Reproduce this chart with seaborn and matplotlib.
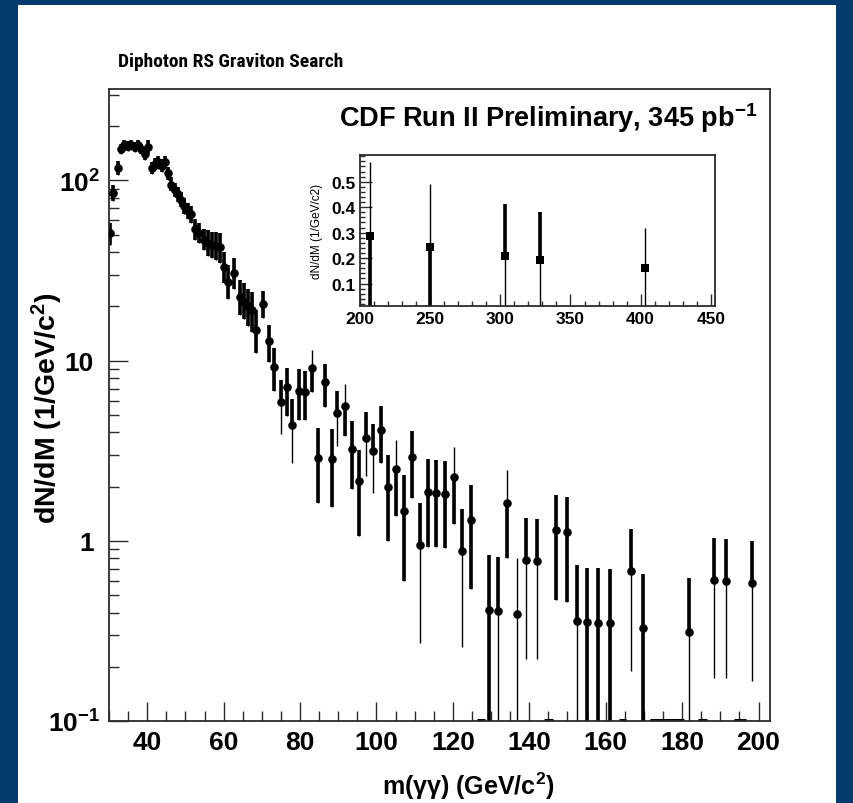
import numpy as np
import matplotlib
matplotlib.use("Agg")
import matplotlib.pyplot as plt
from matplotlib import font_manager as fm
from matplotlib.patches import Rectangle
from matplotlib.transforms import ScaledTranslation
from matplotlib.ticker import FixedLocator, FixedFormatter, NullFormatter, MultipleLocator
import seaborn as sns

# ---------------- data ----------------
# diphoton invariant mass spectrum (bin centres, GeV/c^2) and dN/dM (1/GeV/c^2)
mass = [30.2, 31.1, 32.3, 33.1, 34.0, 34.9, 35.8, 36.7, 37.6, 38.5, 39.3, 40.2,
        41.2, 42.0, 42.9, 43.8, 44.6, 45.5, 46.3, 47.2, 48.0, 48.9, 49.7, 50.6,
        51.5, 52.6, 53.6, 54.8, 55.9, 57.0, 58.1, 59.1, 60.1, 61.2, 62.6, 64.3,
        65.3, 66.4, 67.4, 68.6, 70.2,
        71.8, 73.2, 74.9, 76.5, 78.0, 79.7, 81.3, 83.0, 84.7, 86.5, 88.3, 89.8,
        91.8, 93.5, 95.4, 97.3, 99.2, 101.2, 103.1, 105.2, 107.2, 109.4, 111.5,
        113.5, 115.7, 118.0, 120.2, 122.4, 124.8, 129.5, 131.9, 134.2, 136.9,
        139.2, 142.0, 147.1, 149.8, 152.4, 155.2, 158.0, 161.1, 166.6, 169.7,
        181.9, 188.3, 191.6, 198.4]
dndm = [51, 85, 117, 150, 157, 156, 158, 154, 157, 150, 140, 154,
        118, 124, 126, 121, 127, 110, 95, 89, 84, 78, 72, 68,
        65, 54, 51, 47, 45, 44, 43.5, 42.5, 33, 27.5, 30.6, 22.7,
        21.3, 20, 19.1, 14.8, 20.7,
        12.8, 9.2, 5.9, 7.1, 4.4, 6.8, 6.7, 9.1, 2.9, 7.6, 2.86, 5.1,
        5.6, 3.25, 2.16, 3.7, 3.15, 4.1, 2.0, 2.5, 1.46, 2.92, 0.95,
        1.86, 1.85, 1.83, 2.25, 0.88, 1.3, 0.415, 0.41, 1.63, 0.395,
        0.785, 0.775, 1.15, 1.12, 0.36, 0.355, 0.352, 0.348, 0.68, 0.33,
        0.31, 0.61, 0.60, 0.58]
# lower / upper ends of the error bars
err_lo = [44, 77, 107, 141, 147, 146, 148, 144, 147, 140, 130, 143,
          109, 115, 116, 112, 117, 101, 87, 81, 76, 71, 65, 61,
          58, 47, 45, 41, 38, 37, 36, 35, 27, 22, 25, 18,
          17, 15.5, 14.5, 11, 17.2,
          9.8, 6.8, 3.9, 4.95, 2.7, 4.7, 4.7, 6.7, 1.62, 5.5, 1.55, 3.35,
          3.8, 1.93, 1.06, 2.3, 1.85, 2.7, 1.0, 1.37, 0.6, 1.73, 0.27,
          0.93, 0.92, 0.91, 1.24, 0.256, 0.54, 0.0, 0.0, 0.80, 0.0,
          0.22, 0.22, 0.47, 0.46, 0.0, 0.0, 0.0, 0.0, 0.19, 0.0,
          0.0, 0.173, 0.173, 0.166]
err_hi = [58, 94, 128, 160, 167, 166, 168, 164, 167, 160, 150, 168,
          127, 134, 136, 131, 137, 119, 104, 97, 92, 86, 80, 75,
          72, 61, 58, 54, 53, 52, 52, 51, 40, 34, 37, 28,
          27, 25, 24, 19, 24.5,
          15.7, 11.7, 7.8, 9.1, 6.1, 8.95, 8.8, 11.4, 4.25, 9.6, 4.2, 6.8,
          7.4, 4.6, 3.2, 5.2, 4.45, 5.6, 3.0, 3.65, 2.33, 4.07, 1.62,
          2.83, 2.8, 2.78, 3.3, 1.5, 2.05, 0.83, 0.815, 2.47, 0.80,
          1.34, 1.32, 1.79, 1.75, 0.73, 0.71, 0.71, 0.70, 1.17, 0.656,
          0.62, 1.04, 1.03, 1.0]
# which part of each bar is heavy: b = whole bar, d = above the point,
# u = below the point, n = none
bar_kind = ("b" * 41 + "bbdbdbbubbbd" + "ubbddbbubbd" + "bbbudbbdun"
            + "ddbbdbbbdb" + "dddd")
# empty bins (low / high edge), drawn on the bottom of the frame
empty_lo = [126.2, 143.9, 163.6, 171.7, 184.1, 193.6]
empty_hi = [128.4, 146.2, 165.3, 180.5, 186.6, 196.6]

# high-mass tail shown in the inset
tail_mass = [207, 250, 303, 328, 403]
tail_dndm = [0.287, 0.244, 0.208, 0.193, 0.16]
tail_lo = [0.0, 0.0, 0.0, 0.0, 0.0]
tail_hi = [0.577, 0.492, 0.411, 0.382, 0.32]
tail_kind = "uuddn"

main_title = "Diphoton RS Graviton Search"
exp_label = "CDF Run II Preliminary, 345 pb$^{-1}$"
y_ticks = [0.1, 1, 10, 100]
y_tick_labels = ["$10^{-1}$", "1", "10", "$10^{2}$"]
x_ticks = [40, 60, 80, 100, 120, 140, 160, 180, 200]
inset_x_ticks = [200, 250, 300, 350, 400, 450]
inset_y_ticks = [0.1, 0.2, 0.3, 0.4, 0.5]

# ---------------- style ----------------
sns.set_style("ticks")


def installed(name):
    try:
        fm.findfont(fm.FontProperties(family=name), fallback_to_default=False)
        return True
    except Exception:
        return False


SANS = "Liberation Sans" if installed("Liberation Sans") else "DejaVu Sans"
NARROW = None
for cand in ["Liberation Sans Narrow", "Roboto Condensed", "Open Sans Condensed"]:
    if installed(cand):
        NARROW = cand
        break

plt.rcParams["font.family"] = [SANS, "DejaVu Sans"]
plt.rcParams["font.weight"] = "bold"
plt.rcParams["text.color"] = "black"
plt.rcParams["axes.labelcolor"] = "black"
plt.rcParams["xtick.color"] = "black"
plt.rcParams["ytick.color"] = "black"
plt.rcParams["mathtext.fontset"] = "custom"
plt.rcParams["mathtext.rm"] = f"{SANS}:bold"
plt.rcParams["mathtext.it"] = f"{SANS}:bold"
plt.rcParams["mathtext.bf"] = f"{SANS}:bold"
plt.rcParams["mathtext.default"] = "rm"

NAVY = "#043a6e"
W, H = 854, 804
fig = plt.figure(figsize=(W / 100, H / 100), dpi=100, facecolor=NAVY)

# white slide panel behind everything
fig.patches.append(Rectangle((18 / W, 0), (836 - 18) / W, (H - 6) / H,
                             transform=fig.transFigure, facecolor="white",
                             edgecolor="none", zorder=-10))


def px_box(l, t, r, b):
    return [l / W, 1 - b / H, (r - l) / W, (b - t) / H]


def draw_bars(ax, x, y, lo, hi, kind, floor, thin_lw, thick_lw):
    x = np.asarray(x, float)
    y = np.asarray(y, float)
    lo = np.maximum(np.asarray(lo, float), floor)
    hi = np.asarray(hi, float)
    k = np.array(list(kind))
    ax.vlines(x, lo, hi, color="black", lw=thin_lw, zorder=2)
    t_lo = np.where(np.isin(k, ["b", "u"]), lo, y)
    t_hi = np.where(np.isin(k, ["b", "d"]), hi, y)
    ax.vlines(x, t_lo, t_hi, color="black", lw=thick_lw, zorder=2)


FRAME = "#2b2b2b"

# ---------------- main spectrum ----------------
ax = fig.add_axes(px_box(109, 90, 770, 722))
ax.set_facecolor("white")
ax.set_yscale("log")
ax.set_xlim(30, 203)
ax.set_ylim(0.1, 322)

draw_bars(ax, mass, dndm, err_lo, err_hi, bar_kind, 1e-3, 1.0, 2.6)
sns.scatterplot(x=mass, y=dndm, ax=ax, color="black", marker="o", s=38,
                linewidth=0, zorder=3, legend=False)
for a, b in zip(empty_lo, empty_hi):
    ax.plot([a, b], [0.1015, 0.1015], color="black", lw=2.2,
            solid_capstyle="butt", zorder=2)

for s in ["top", "right", "left", "bottom"]:
    ax.spines[s].set_color(FRAME)
    ax.spines[s].set_linewidth(1.3)

ax.xaxis.set_major_locator(FixedLocator(x_ticks))
ax.xaxis.set_minor_locator(MultipleLocator(5))
ax.yaxis.set_major_locator(FixedLocator(y_ticks))
ax.yaxis.set_major_formatter(FixedFormatter(y_tick_labels))
minor_y = [m * 10.0 ** e for e in range(-1, 3) for m in range(2, 10)]
ax.yaxis.set_minor_locator(FixedLocator(minor_y))
ax.yaxis.set_minor_formatter(NullFormatter())
ax.tick_params(which="both", direction="in", top=False, right=False,
               color=FRAME, width=1.0)
ax.tick_params(which="major", length=13.5, labelsize=19, pad=6.5)
ax.tick_params(which="minor", length=7)
for lab in ax.get_xticklabels() + ax.get_yticklabels():
    lab.set_fontweight("bold")

ax.set_xlabel("m(γγ) (GeV/c$^{2}$)", fontsize=18, fontweight="bold")
ax.xaxis.set_label_coords((468 - 109) / 661, -(786 - 722) / 632)
ax.xaxis.label.set_va("center")
ax.set_ylabel("dN/dM (1/GeV/c$^{2}$)", fontsize=20.5, fontweight="bold")
ax.yaxis.set_label_coords(-(109 - 47) / 661, (722 - 408) / 632)
ax.yaxis.label.set_va("center")

if NARROW:
    fig.text(118 / W, 1 - 62 / H, main_title, family=[NARROW, "DejaVu Sans"],
             fontsize=14, fontweight="bold", ha="left", va="center")
else:
    fig.text(118 / W, 1 - 62 / H, main_title, fontsize=11.8,
             fontweight="bold", ha="left", va="center")
fig.text(757 / W, 1 - 118 / H, exp_label, fontsize=19.5, fontweight="bold",
         ha="right", va="center")

# ---------------- inset: high-mass tail ----------------
ins = fig.add_axes(px_box(360, 156, 715, 307))
ins.set_facecolor("white")
ins.set_xlim(200, 453)
ins.set_ylim(0.012, 0.605)
draw_bars(ins, tail_mass, tail_dndm, tail_lo, tail_hi, tail_kind, -1.0, 1.0, 2.6)
sns.scatterplot(x=tail_mass, y=tail_dndm, ax=ins, color="black", marker="s",
                s=26, linewidth=0, zorder=3, legend=False)
for s in ["top", "right", "left", "bottom"]:
    ins.spines[s].set_color(FRAME)
    ins.spines[s].set_linewidth(1.3)
ins.xaxis.set_major_locator(FixedLocator(inset_x_ticks))
ins.xaxis.set_minor_locator(MultipleLocator(10))
ins.yaxis.set_major_locator(FixedLocator(inset_y_ticks))
ins.yaxis.set_minor_locator(MultipleLocator(0.02))
ins.tick_params(which="both", direction="in", top=False, right=False,
                color=FRAME, width=1.0)
ins.tick_params(which="major", length=8.5, labelsize=12.5, pad=3.5)
ins.tick_params(which="minor", length=3.6)
for lab in ins.get_xticklabels() + ins.get_yticklabels():
    lab.set_fontweight("bold")
ins.set_xlabel("")
ins.set_ylabel("dN/dM (1/GeV/c2)", fontsize=8.5, fontweight="normal")
ins.yaxis.set_label_coords(-(360 - 317) / 355, 0.5)
ins.yaxis.label.set_va("center")

# plain (non-exponent) decade labels sit a little further from the axis
fig.canvas.draw()
shift = ScaledTranslation(-6 / 100, 0, fig.dpi_scale_trans)
for lab in ax.get_yticklabels():
    if "^" not in lab.get_text():
        lab.set_transform(lab.get_transform() + shift)

fig.savefig("out.png", dpi=100, facecolor=NAVY)
